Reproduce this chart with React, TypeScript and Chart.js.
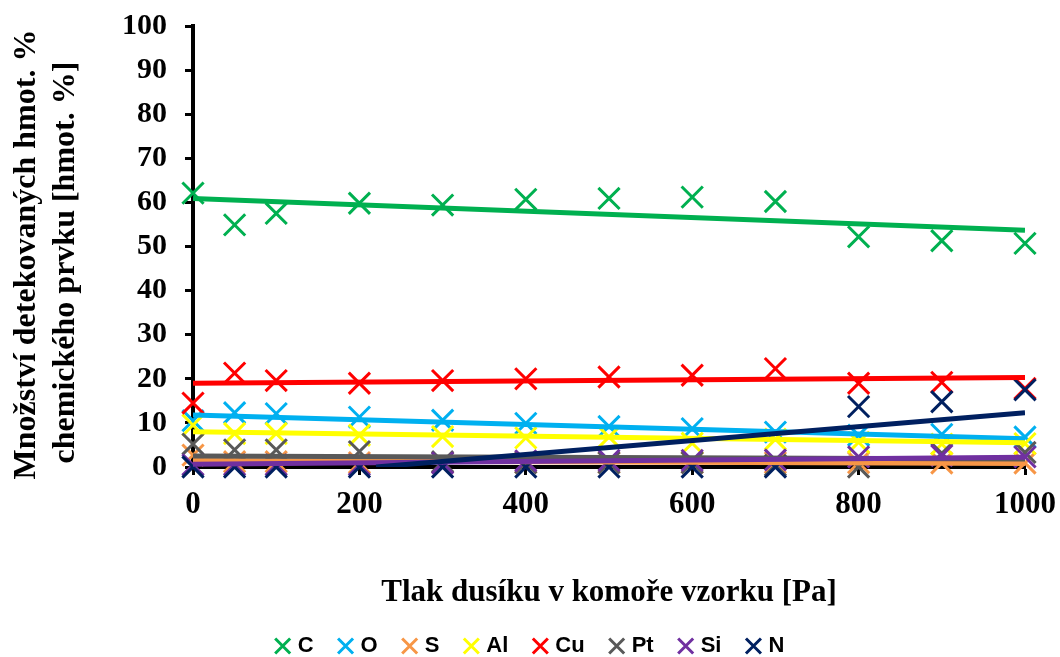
import React, { useEffect, useRef } from 'react';
import { Chart, registerables } from 'chart.js';

Chart.register(...registerables);

// Pressure of nitrogen in the specimen chamber [Pa]
const pressures = [0, 50, 100, 200, 300, 400, 500, 600, 700, 800, 900, 1000];

// Detected amounts [wt. %]
const valuesC = [62.1, 54.9, 57.5, 59.8, 59.4, 60.7, 60.9, 61.2, 60.2, 52.2, 51.3, 50.7];
const valuesO = [10.5, 12.3, 12.1, 11.3, 10.6, 9.9, 9.2, 8.7, 7.9, 7.2, 7.4, 6.8];
const valuesS = [2.7, 1.2, 1.2, 1.0, 1.0, 1.0, 1.0, 1.0, 1.0, 1.0, 0.9, 0.9];
const valuesAl = [9.5, 7.6, 7.6, 7.2, 6.9, 6.6, 6.8, 5.4, 6.3, 5.6, 5.2, 5.3];
const valuesCu = [14.5, 21.3, 19.6, 19.0, 19.6, 20.0, 20.4, 20.8, 22.3, 19.0, 19.2, 17.8];
const valuesPt = [5.2, 3.9, 3.9, 3.5, 1.2, 1.0, 1.0, 1.0, 0.4, 0.0, 3.1, 3.3];
const valuesSi = [0.5, 0.5, 0.5, 0.5, 0.9, 1.4, 1.5, 1.5, 1.6, 2.3, 2.6, 2.3];
const valuesN = [0, 0, 0, 0, 0, 0, 0, 0, 0, 13.7, 14.8, 17.5];

const elements = ['C', 'O', 'S', 'Al', 'Cu', 'Pt', 'Si', 'N'];
const seriesValues = [valuesC, valuesO, valuesS, valuesAl, valuesCu, valuesPt, valuesSi, valuesN];
const colors = ['#00B050', '#00B0F0', '#F79646', '#FFFF00', '#FF0000', '#595959', '#7030A0', '#002060'];

// Linear trendlines: start/end points
const trendStartX = [0, 0, 0, 0, 0, 0, 0, 220];
const trendStartY = [60.9, 11.8, 1.5, 8.0, 19.0, 2.5, 0.6, 0];
const trendEndX = [1000, 1000, 1000, 1000, 1000, 1000, 1000, 1000];
const trendEndY = [53.7, 6.4, 0.8, 5.5, 20.3, 1.8, 2.2, 12.3];

const xTitle = 'Tlak dusíku v komoře vzorku [Pa]';
const yTitle = ['Množství detekovaných hmot. %  ', 'chemického prvku [hmot. %]    '];

const serif = '"Liberation Serif", "Times New Roman", serif';
const legendFont = '"Liberation Sans", Arial, sans-serif';

export default function App() {
  const ref = useRef<HTMLCanvasElement>(null);

  useEffect(() => {
    document.body.style.margin = '0';
    const n = elements.length;
    const markerSets = elements.map((el, i) => ({
      type: 'scatter' as const,
      label: el,
      data: pressures.map((p, j) => ({ x: p, y: seriesValues[i][j] })),
      showLine: false,
      pointStyle: 'crossRot',
      pointRadius: 15,
      pointHoverRadius: 15,
      pointBorderWidth: 3,
      pointHoverBorderWidth: 3,
      pointBorderColor: colors[i],
      pointBackgroundColor: colors[i],
      borderColor: colors[i],
      backgroundColor: colors[i],
      clip: false,
      order: 2 * n - 1 - i,
    }));
    const trendSets = elements.map((el, i) => ({
      type: 'scatter' as const,
      label: el + ' trend',
      data: [
        { x: trendStartX[i], y: trendStartY[i] },
        { x: trendEndX[i], y: trendEndY[i] },
      ],
      showLine: true,
      pointRadius: 0,
      pointHoverRadius: 0,
      borderWidth: 5,
      borderColor: colors[i],
      backgroundColor: colors[i],
      order: n - 1 - i,
    }));

    const chart = new Chart(ref.current!, {
      type: 'scatter',
      data: { datasets: [...markerSets, ...trendSets] as any },
      options: {
        animation: false,
        responsive: true,
        maintainAspectRatio: false,
        layout: { padding: { top: 26, left: 38, right: 35, bottom: 0 } },
        plugins: {
          tooltip: { enabled: false },
          legend: {
            position: 'bottom',
            maxHeight: 50,
            labels: {
              usePointStyle: true,
              boxWidth: 8,
              boxHeight: 15,
              padding: 28,
              color: '#000',
              font: { family: legendFont, size: 22, weight: 'bold' },
              filter: (item: any) => item.datasetIndex < n,
              sort: (a: any, b: any) => a.datasetIndex - b.datasetIndex,
            },
          },
        },
        scales: {
          x: {
            type: 'linear',
            min: 0,
            max: 1000,
            ticks: {
              stepSize: 200,
              color: '#000',
              padding: 11,
              maxRotation: 0,
              callback: (v: any) => String(v),
              font: { family: serif, size: 31, weight: 'bold' },
            },
            grid: { drawOnChartArea: false, drawTicks: true, tickLength: 8, tickWidth: 3, color: '#000' },
            border: { color: '#000', width: 4 },
            title: {
              display: true,
              text: xTitle,
              color: '#000',
              font: { family: serif, size: 31, weight: 'bold' },
              padding: { top: 0, bottom: -4.6 },
            },
            afterFit: (s: any) => {
              s.height = 140;
              s.paddingLeft = 0;
              s.paddingRight = 0;
            },
          },
          y: {
            type: 'linear',
            min: 0,
            max: 100,
            ticks: {
              stepSize: 10,
              color: '#000',
              padding: 18,
              callback: (v: any) => String(v),
              font: { family: serif, size: 30, weight: 'bold' },
            },
            grid: { drawOnChartArea: false, drawTicks: true, tickLength: 8, tickWidth: 3, color: '#000' },
            border: { color: '#000', width: 4 },
            title: {
              display: true,
              text: yTitle,
              color: '#000',
              font: { family: serif, size: 32, weight: 'bold' },
              padding: { top: -30.2, bottom: 0 },
            },
            afterFit: (s: any) => {
              s.width = 155;
              s.paddingTop = 0;
              s.paddingBottom = 0;
            },
          },
        },
      },
    });
    return () => chart.destroy();
  }, []);

  return (
    <div style={{ position: 'relative', width: 1060, height: 657 }}>
      <canvas ref={ref} />
    </div>
  );
}
